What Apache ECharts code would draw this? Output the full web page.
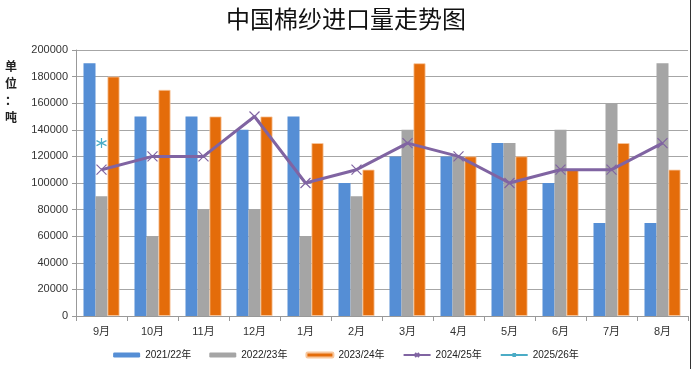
<!DOCTYPE html>
<html>
<head>
<meta charset="utf-8">
<script src="https://cdn.jsdelivr.net/npm/echarts@6/dist/echarts.min.js"></script>
<style>
html,body{margin:0;padding:0;background:#fff;}
#c{width:692px;height:369px;}
</style>
</head>
<body>
<div id="c"></div>
<script>
var categories = ['9月','10月','11月','12月','1月','2月','3月','4月','5月','6月','7月','8月'];
var s2122 = [190000,150000,150000,140000,150000,100000,120000,120000,130000,100000,70000,70000];
var s2223 = [90000,60000,80000,80000,60000,90000,140000,120000,130000,140000,160000,190000];
var s2324 = [180000,170000,150000,150000,130000,110000,190000,120000,120000,110000,130000,110000];
var s2425 = [110000,120000,120000,150000,100000,110000,130000,120000,100000,110000,110000,130000];
var s2526 = [130000,null,null,null,null,null,null,null,null,null,null,null];
var yTicks = [0,20000,40000,60000,80000,100000,120000,140000,160000,180000,200000];

var font = '"Liberation Sans","Noto Sans CJK SC",sans-serif';
var chart = echarts.init(document.getElementById('c'));
var xPath = 'path://M0,0L10,10M10,0L0,10';
var starPath = 'path://M5,0L5,10M0.7,2.5L9.3,7.5M0.7,7.5L9.3,2.5';
chart.setOption({
  animation:false,
  title:{text:'中国棉纱进口量走势图', left:'center', top:2,
    textStyle:{fontFamily:'"Noto Sans CJK SC",sans-serif', fontSize:24, fontWeight:'normal', color:'#111'}},
  graphic:[
    {type:'text', left:5, top:58, style:{text:'单\n位\n：\n吨', fontFamily:'"Noto Sans CJK SC",sans-serif', fontSize:12, fontWeight:'bold', lineHeight:17, fill:'#222'}},
    {type:'line', shape:{x1:690.5,y1:0,x2:690.5,y2:369}, style:{stroke:'#333', lineWidth:1}}
  ],
  grid:{left:76, right:4, top:50, bottom:53},
  legend:{bottom:4, left:'center', itemGap:18, itemWidth:27, itemHeight:5,
    textStyle:{fontFamily:font, fontSize:10, color:'#222'},
    data:['2021/22年','2022/23年','2023/24年','2024/25年','2025/26年']},
  xAxis:{type:'category', data:categories,
    axisLine:{lineStyle:{color:'#999'}},
    axisTick:{show:true, length:5, lineStyle:{color:'#999'}},
    axisLabel:{fontFamily:font, fontSize:11, color:'#333', margin:10}},
  yAxis:{type:'value', min:0, max:200000, interval:20000,
    axisLine:{show:true, lineStyle:{color:'#999'}},
    axisTick:{show:true, length:4, lineStyle:{color:'#999'}},
    axisLabel:{fontFamily:font, fontSize:11, color:'#333', margin:8,
      formatter:function(v){return yTicks.indexOf(v)>=0? String(v):'';}},
    splitLine:{lineStyle:{color:'#a6a6a6', width:1}}},
  series:[
    {name:'2021/22年', type:'bar', data:s2122, barWidth:12, barGap:'0%',
      itemStyle:{color:'#558ED5'}},
    {name:'2022/23年', type:'bar', data:s2223, barWidth:12, barGap:'0%',
      itemStyle:{color:'#A5A5A5'}},
    {name:'2023/24年', type:'bar', data:s2324, barWidth:12, barGap:'0%',
      itemStyle:{color:'#E46C0A', borderColor:'#f7c79e', borderWidth:0.8}},
    {name:'2024/25年', type:'line', data:s2425, symbol:xPath, symbolSize:10,
      lineStyle:{color:'#8064A2', width:3},
      itemStyle:{color:'#8064A2', borderColor:'#8064A2', borderWidth:1.2}},
    {name:'2025/26年', type:'line', data:s2526, symbol:starPath, symbolSize:10,
      lineStyle:{color:'#4BACC6', width:3},
      itemStyle:{color:'#4BACC6', borderColor:'#4BACC6', borderWidth:1.2}}
  ]
});
</script>
</body>
</html>
